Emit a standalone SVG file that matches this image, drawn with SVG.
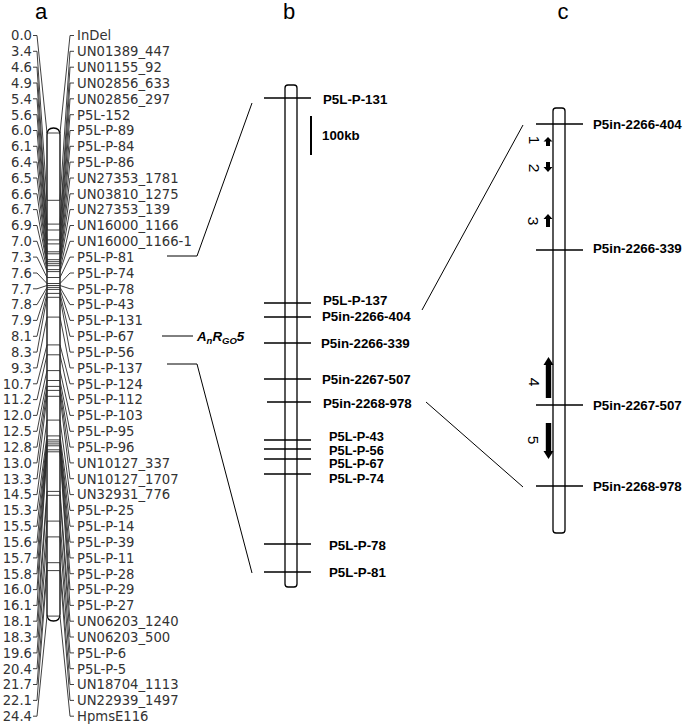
<svg xmlns="http://www.w3.org/2000/svg" width="685" height="728" viewBox="0 0 685 728">
<style>
.t{font-family:"Liberation Sans",Arial,sans-serif;font-size:22px;fill:#000;text-anchor:middle}
.al{font-family:"DejaVu Sans","Liberation Sans",sans-serif;font-size:13.2px;fill:#333;text-anchor:end}
.ar{font-family:"DejaVu Sans","Liberation Sans",sans-serif;font-size:13.2px;fill:#333}
.b{font-family:"Liberation Sans",Arial,sans-serif;font-size:13.3px;font-weight:bold;fill:#000}
.bs{font-family:"Liberation Sans",Arial,sans-serif;font-size:12.8px;font-weight:bold;fill:#000}
.n{font-family:"Liberation Sans",Arial,sans-serif;font-size:15.5px;fill:#000;text-anchor:middle}
.con path{fill:none;stroke:#2a2a2a;stroke-width:0.9}
.lnk{fill:none;stroke:#000;stroke-width:1}
.bar{fill:#fff;stroke:#000;stroke-width:1.3}
.mk{stroke:#000;stroke-width:1.6}
.arw{fill:#000}
</style>

<text class="t" x="41" y="19">a</text>
<text class="t" x="289" y="19">b</text>
<text class="t" x="563" y="19">c</text>

<!-- panel a chromosome -->
<g id="a-chrom">
<path class="bar" d="M47,616 L47,135 Q47,128 53.5,128 Q60,128 60,135 L60,614 Q60,621 53.5,621 Q47,621 47,614 Z"/>
</g>

<g id="a-connectors" class="con">
<path d="M33,35.5H37L47,133H60L70,35.5H74"/>
<path d="M33,51.3H37L47,200.3H60L70,51.3H74"/>
<path d="M33,67.2H37L47,224.1H60L70,67.2H74"/>
<path d="M33,83H37L47,230H60L70,83H74"/>
<path d="M33,98.8H37L47,239.9H60L70,98.8H74"/>
<path d="M33,114.7H37L47,243.9H60L70,114.7H74"/>
<path d="M33,130.5H37L47,251.8H60L70,130.5H74"/>
<path d="M33,146.3H37L47,253.8H60L70,146.3H74"/>
<path d="M33,162.1H37L47,259.7H60L70,162.1H74"/>
<path d="M33,178H37L47,261.7H60L70,178H74"/>
<path d="M33,193.8H37L47,263.7H60L70,193.8H74"/>
<path d="M33,209.6H37L47,265.7H60L70,209.6H74"/>
<path d="M33,225.5H37L47,269.6H60L70,225.5H74"/>
<path d="M33,241.3H37L47,271.6H60L70,241.3H74"/>
<path d="M33,257.1H37L47,277.5H60L70,257.1H74"/>
<path d="M33,273H37L47,283.5H60L70,273H74"/>
<path d="M33,288.8H37L47,285.5H60L70,288.8H74"/>
<path d="M33,304.6H37L47,287.4H60L70,304.6H74"/>
<path d="M33,320.4H37L47,289.4H60L70,320.4H74"/>
<path d="M33,336.3H37L47,293.4H60L70,336.3H74"/>
<path d="M33,352.1H37L47,297.3H60L70,352.1H74"/>
<path d="M33,367.9H37L47,317.1H60L70,367.9H74"/>
<path d="M33,383.8H37L47,344.9H60L70,383.8H74"/>
<path d="M33,399.6H37L47,354.8H60L70,399.6H74"/>
<path d="M33,415.4H37L47,370.6H60L70,415.4H74"/>
<path d="M33,431.3H37L47,380.5H60L70,431.3H74"/>
<path d="M33,447.1H37L47,386.4H60L70,447.1H74"/>
<path d="M33,462.9H37L47,390.4H60L70,462.9H74"/>
<path d="M33,478.7H37L47,396.3H60L70,478.7H74"/>
<path d="M33,494.6H37L47,420.1H60L70,494.6H74"/>
<path d="M33,510.4H37L47,435.9H60L70,510.4H74"/>
<path d="M33,526.2H37L47,439.9H60L70,526.2H74"/>
<path d="M33,542.1H37L47,441.9H60L70,542.1H74"/>
<path d="M33,557.9H37L47,443.9H60L70,557.9H74"/>
<path d="M33,573.7H37L47,445.8H60L70,573.7H74"/>
<path d="M33,589.6H37L47,449.8H60L70,589.6H74"/>
<path d="M33,605.4H37L47,451.8H60L70,605.4H74"/>
<path d="M33,621.2H37L47,491.4H60L70,621.2H74"/>
<path d="M33,637H37L47,495.3H60L70,637H74"/>
<path d="M33,652.9H37L47,521.1H60L70,652.9H74"/>
<path d="M33,668.7H37L47,536.9H60L70,668.7H74"/>
<path d="M33,684.5H37L47,562.7H60L70,684.5H74"/>
<path d="M33,700.4H37L47,570.6H60L70,700.4H74"/>
<path d="M33,716.2H37L47,616.1H60L70,716.2H74"/>
</g>

<g id="a-labels">
<g id="a-m0"><text class="al" x="32" y="40.3">0.0</text><text class="ar" x="77" y="40.3">InDel</text></g>
<g id="a-m1"><text class="al" x="32" y="56.1">3.4</text><text class="ar" x="77" y="56.1">UN01389_447</text></g>
<g id="a-m2"><text class="al" x="32" y="72">4.6</text><text class="ar" x="77" y="72">UN01155_92</text></g>
<g id="a-m3"><text class="al" x="32" y="87.8">4.9</text><text class="ar" x="77" y="87.8">UN02856_633</text></g>
<g id="a-m4"><text class="al" x="32" y="103.6">5.4</text><text class="ar" x="77" y="103.6">UN02856_297</text></g>
<g id="a-m5"><text class="al" x="32" y="119.5">5.6</text><text class="ar" x="77" y="119.5">P5L-152</text></g>
<g id="a-m6"><text class="al" x="32" y="135.3">6.0</text><text class="ar" x="77" y="135.3">P5L-P-89</text></g>
<g id="a-m7"><text class="al" x="32" y="151.1">6.1</text><text class="ar" x="77" y="151.1">P5L-P-84</text></g>
<g id="a-m8"><text class="al" x="32" y="166.9">6.4</text><text class="ar" x="77" y="166.9">P5L-P-86</text></g>
<g id="a-m9"><text class="al" x="32" y="182.8">6.5</text><text class="ar" x="77" y="182.8">UN27353_1781</text></g>
<g id="a-m10"><text class="al" x="32" y="198.6">6.6</text><text class="ar" x="77" y="198.6">UN03810_1275</text></g>
<g id="a-m11"><text class="al" x="32" y="214.4">6.7</text><text class="ar" x="77" y="214.4">UN27353_139</text></g>
<g id="a-m12"><text class="al" x="32" y="230.3">6.9</text><text class="ar" x="77" y="230.3">UN16000_1166</text></g>
<g id="a-m13"><text class="al" x="32" y="246.1">7.0</text><text class="ar" x="77" y="246.1">UN16000_1166-1</text></g>
<g id="a-m14"><text class="al" x="32" y="261.9">7.3</text><text class="ar" x="77" y="261.9">P5L-P-81</text></g>
<g id="a-m15"><text class="al" x="32" y="277.8">7.6</text><text class="ar" x="77" y="277.8">P5L-P-74</text></g>
<g id="a-m16"><text class="al" x="32" y="293.6">7.7</text><text class="ar" x="77" y="293.6">P5L-P-78</text></g>
<g id="a-m17"><text class="al" x="32" y="309.4">7.8</text><text class="ar" x="77" y="309.4">P5L-P-43</text></g>
<g id="a-m18"><text class="al" x="32" y="325.2">7.9</text><text class="ar" x="77" y="325.2">P5L-P-131</text></g>
<g id="a-m19"><text class="al" x="32" y="341.1">8.1</text><text class="ar" x="77" y="341.1">P5L-P-67</text></g>
<g id="a-m20"><text class="al" x="32" y="356.9">8.3</text><text class="ar" x="77" y="356.9">P5L-P-56</text></g>
<g id="a-m21"><text class="al" x="32" y="372.7">9.3</text><text class="ar" x="77" y="372.7">P5L-P-137</text></g>
<g id="a-m22"><text class="al" x="32" y="388.6">10.7</text><text class="ar" x="77" y="388.6">P5L-P-124</text></g>
<g id="a-m23"><text class="al" x="32" y="404.4">11.2</text><text class="ar" x="77" y="404.4">P5L-P-112</text></g>
<g id="a-m24"><text class="al" x="32" y="420.2">12.0</text><text class="ar" x="77" y="420.2">P5L-P-103</text></g>
<g id="a-m25"><text class="al" x="32" y="436.1">12.5</text><text class="ar" x="77" y="436.1">P5L-P-95</text></g>
<g id="a-m26"><text class="al" x="32" y="451.9">12.8</text><text class="ar" x="77" y="451.9">P5L-P-96</text></g>
<g id="a-m27"><text class="al" x="32" y="467.7">13.0</text><text class="ar" x="77" y="467.7">UN10127_337</text></g>
<g id="a-m28"><text class="al" x="32" y="483.5">13.3</text><text class="ar" x="77" y="483.5">UN10127_1707</text></g>
<g id="a-m29"><text class="al" x="32" y="499.4">14.5</text><text class="ar" x="77" y="499.4">UN32931_776</text></g>
<g id="a-m30"><text class="al" x="32" y="515.2">15.3</text><text class="ar" x="77" y="515.2">P5L-P-25</text></g>
<g id="a-m31"><text class="al" x="32" y="531">15.5</text><text class="ar" x="77" y="531">P5L-P-14</text></g>
<g id="a-m32"><text class="al" x="32" y="546.9">15.6</text><text class="ar" x="77" y="546.9">P5L-P-39</text></g>
<g id="a-m33"><text class="al" x="32" y="562.7">15.7</text><text class="ar" x="77" y="562.7">P5L-P-11</text></g>
<g id="a-m34"><text class="al" x="32" y="578.5">15.8</text><text class="ar" x="77" y="578.5">P5L-P-28</text></g>
<g id="a-m35"><text class="al" x="32" y="594.4">16.0</text><text class="ar" x="77" y="594.4">P5L-P-29</text></g>
<g id="a-m36"><text class="al" x="32" y="610.2">16.1</text><text class="ar" x="77" y="610.2">P5L-P-27</text></g>
<g id="a-m37"><text class="al" x="32" y="626">18.1</text><text class="ar" x="77" y="626">UN06203_1240</text></g>
<g id="a-m38"><text class="al" x="32" y="641.8">18.3</text><text class="ar" x="77" y="641.8">UN06203_500</text></g>
<g id="a-m39"><text class="al" x="32" y="657.7">19.6</text><text class="ar" x="77" y="657.7">P5L-P-6</text></g>
<g id="a-m40"><text class="al" x="32" y="673.5">20.4</text><text class="ar" x="77" y="673.5">P5L-P-5</text></g>
<g id="a-m41"><text class="al" x="32" y="689.3">21.7</text><text class="ar" x="77" y="689.3">UN18704_1113</text></g>
<g id="a-m42"><text class="al" x="32" y="705.2">22.1</text><text class="ar" x="77" y="705.2">UN22939_1497</text></g>
<g id="a-m43"><text class="al" x="32" y="721">24.4</text><text class="ar" x="77" y="721">HpmsE116</text></g>
</g>

<!-- QTL label -->
<g id="qtl">
<line class="lnk" x1="162" y1="336" x2="193" y2="336"/>
<text class="b" x="197" y="341" font-style="italic">A<tspan font-size="9.5" dy="3">n</tspan><tspan dy="-3">R</tspan><tspan font-size="9.5" dy="3">GO</tspan><tspan dy="-3">5</tspan></text>
</g>

<!-- links between panels -->
<g id="links">
<polyline class="lnk" points="167,256 197,256 252,103"/>
<polyline class="lnk" points="167,364 197,364 252,573"/>
<line class="lnk" x1="422" y1="310" x2="523" y2="125"/>
<line class="lnk" x1="426" y1="402" x2="523" y2="487"/>
</g>

<!-- panel b -->
<g id="b-chrom"><rect class="bar" x="285" y="85" width="12" height="502" rx="3"/></g>
<g id="b-scale"><line x1="311" y1="116" x2="311" y2="155" stroke="#000" stroke-width="2"/><text class="b" x="322" y="140">100kb</text></g>
<g id="b-m1"><line class="mk" x1="264" y1="98" x2="311" y2="98"/><text class="b" x="323" y="104">P5L-P-131</text></g>
<g id="b-m2"><line class="mk" x1="264" y1="303" x2="311" y2="303"/><text class="b" x="323" y="305">P5L-P-137</text></g>
<g id="b-m3"><line class="mk" x1="264" y1="317" x2="311" y2="317"/><text class="b" x="322" y="321">P5in-2266-404</text></g>
<g id="b-m4"><line class="mk" x1="264" y1="343" x2="311" y2="343"/><text class="b" x="321" y="348">P5in-2266-339</text></g>
<g id="b-m5"><line class="mk" x1="264" y1="379" x2="311" y2="379"/><text class="b" x="322" y="384">P5in-2267-507</text></g>
<g id="b-m6"><line class="mk" x1="267" y1="402" x2="311" y2="402"/><text class="b" x="323" y="408">P5in-2268-978</text></g>
<g id="b-m7"><line class="mk" x1="264" y1="440" x2="311" y2="440"/><text class="bs" x="329" y="440.5">P5L-P-43</text></g>
<g id="b-m8"><line class="mk" x1="264" y1="449" x2="311" y2="449"/><text class="bs" x="329" y="454.5">P5L-P-56</text></g>
<g id="b-m9"><line class="mk" x1="264" y1="459" x2="311" y2="459"/><text class="bs" x="329" y="468">P5L-P-67</text></g>
<g id="b-m10"><line class="mk" x1="264" y1="474" x2="311" y2="474"/><text class="bs" x="329" y="483">P5L-P-74</text></g>
<g id="b-m11"><line class="mk" x1="264" y1="544" x2="311" y2="544"/><text class="b" x="329" y="550">P5L-P-78</text></g>
<g id="b-m12"><line class="mk" x1="264" y1="572" x2="311" y2="572"/><text class="b" x="329" y="577">P5L-P-81</text></g>

<!-- panel c -->
<g id="c-chrom"><rect class="bar" x="553" y="108" width="12" height="425" rx="3"/></g>
<g id="c-m1"><line class="mk" x1="536" y1="124" x2="583" y2="124"/><text class="b" x="593" y="129">P5in-2266-404</text></g>
<g id="c-m2"><line class="mk" x1="536" y1="250" x2="583" y2="250"/><text class="b" x="593" y="253">P5in-2266-339</text></g>
<g id="c-m3"><line class="mk" x1="536" y1="405" x2="583" y2="405"/><text class="b" x="593" y="410">P5in-2267-507</text></g>
<g id="c-m4"><line class="mk" x1="536" y1="486" x2="583" y2="486"/><text class="b" x="593" y="491">P5in-2268-978</text></g>

<g id="gene1"><path class="arw" d="M548,137 L552.5,141.5 L550,141.5 L550,146 L546,146 L546,141.5 L543.5,141.5 Z"/><text class="n" transform="translate(535,140) rotate(90)" y="5.6">1</text></g>
<g id="gene2"><path class="arw" d="M546,162 L550,162 L550,167 L552.5,167 L548,172 L543.5,167 L546,167 Z"/><text class="n" transform="translate(535,168) rotate(90)" y="5.6">2</text></g>
<g id="gene3"><path class="arw" d="M548,214 L552.5,219 L550,219 L550,227 L546,227 L546,219 L543.5,219 Z"/><text class="n" transform="translate(534,221) rotate(90)" y="5.6">3</text></g>
<g id="gene4"><path class="arw" d="M548.5,357 L553.5,365 L551.2,365 L551.2,398 L545.8,398 L545.8,365 L543.5,365 Z"/><text class="n" transform="translate(535,382) rotate(90)" y="5.6">4</text></g>
<g id="gene5"><path class="arw" d="M545.8,423 L551.2,423 L551.2,451 L553.5,451 L548.5,459 L543.5,451 L545.8,451 Z"/><text class="n" transform="translate(534,440) rotate(90)" y="5.6">5</text></g>
</svg>
